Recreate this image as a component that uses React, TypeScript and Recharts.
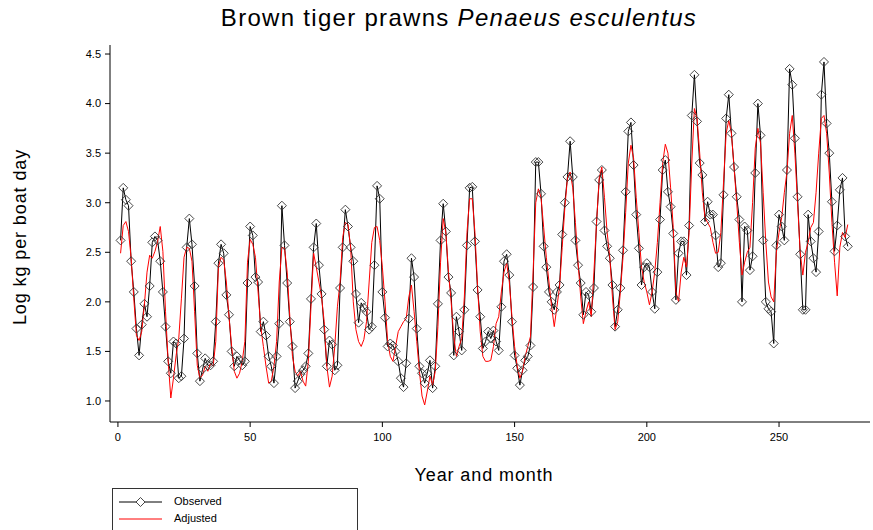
import { LineChart, Line, XAxis, YAxis } from "recharts";

// month index 1..276
const months = Array.from({ length: 276 }, (_, i) => i + 1);

const observed = [
  2.62, 3.15, 3.03, 2.97, 2.41, 2.10, 1.73, 1.46, 1.77, 1.98, 1.85, 2.16,
  2.60, 2.66, 2.62, 2.41, 2.10, 1.75, 1.40, 1.28, 1.60, 1.58, 1.23, 1.25,
  1.63, 2.55, 2.84, 2.58, 2.16, 1.48, 1.20, 1.32, 1.43, 1.36, 1.36, 1.40,
  1.80, 2.39, 2.58, 2.49, 2.07, 1.87, 1.50, 1.35, 1.45, 1.41, 1.36, 1.40,
  2.19, 2.76, 2.67, 2.25, 2.20, 1.70, 1.80, 1.66, 1.45, 1.35, 1.18, 1.45,
  1.78, 2.97, 2.57, 2.19, 1.80, 1.55, 1.13, 1.20, 1.27, 1.31, 1.35, 1.48,
  2.03, 2.55, 2.79, 2.37, 2.08, 1.72, 1.35, 1.61, 1.57, 1.31, 1.36, 2.14,
  2.55, 2.93, 2.76, 2.55, 2.41, 2.08, 1.79, 1.99, 1.94, 1.90, 1.72, 1.75,
  2.37, 3.17, 3.04, 2.10, 1.84, 1.55, 1.58, 1.56, 1.50, 1.40, 1.23, 1.14,
  1.38, 1.83, 2.44, 2.25, 1.73, 1.35, 1.28, 1.18, 1.28, 1.41, 1.13, 1.35,
  1.98, 2.62, 2.99, 2.71, 2.25, 2.09, 1.46, 1.85, 1.70, 1.51, 1.92, 2.57,
  3.15, 3.16, 2.61, 2.12, 1.85, 1.53, 1.60, 1.70, 1.63, 1.71, 1.60, 1.51,
  1.95, 2.41, 2.48, 2.27, 1.80, 1.46, 1.33, 1.16, 1.31, 1.41, 1.45, 1.56,
  2.15, 3.41, 3.41, 3.09, 2.56, 2.35, 2.10, 2.00, 1.92, 2.10, 2.17, 2.68,
  3.00, 3.26, 3.62, 3.26, 2.62, 2.37, 2.19, 1.87, 2.10, 2.07, 1.90, 2.14,
  2.81, 3.23, 3.33, 2.72, 2.56, 2.44, 2.17, 1.75, 1.92, 2.14, 2.52, 3.11,
  3.72, 3.81, 3.38, 2.88, 2.54, 2.17, 2.35, 2.39, 2.35, 2.10, 1.93, 2.30,
  2.83, 3.33, 3.43, 3.11, 2.96, 2.69, 2.02, 2.49, 2.61, 2.61, 2.27, 2.77,
  3.88, 4.29, 3.82, 3.40, 3.28, 2.81, 3.01, 2.88, 2.88, 2.67, 2.35, 2.39,
  3.08, 3.85, 4.09, 3.70, 3.36, 3.06, 2.83, 2.00, 2.76, 2.72, 2.32, 2.46,
  3.30, 4.00, 3.68, 2.62, 2.00, 1.93, 1.90, 1.58, 2.57, 2.88, 2.76, 2.62,
  3.33, 4.35, 4.19, 3.65, 3.06, 2.48, 1.92, 1.92, 2.88, 2.61, 2.44, 2.30,
  2.71, 4.09, 4.42, 3.80, 3.50, 3.01, 2.51, 2.77, 3.13, 3.25, 2.66, 2.56,
];

const adjusted = [
  2.49, 2.77, 2.81, 2.71, 2.44, 2.03, 1.66, 1.61, 1.70, 1.97, 2.30, 2.47,
  2.44, 2.51, 2.61, 2.76, 2.51, 1.90, 1.40, 1.03, 1.23, 1.46, 1.63, 2.03,
  2.45, 2.55, 2.54, 2.41, 1.90, 1.36, 1.23, 1.26, 1.35, 1.30, 1.38, 1.35,
  1.60, 2.35, 2.45, 2.42, 2.20, 1.85, 1.55, 1.30, 1.23, 1.28, 1.40, 1.60,
  2.40, 2.63, 2.58, 2.45, 2.10, 1.75, 1.55, 1.35, 1.18, 1.20, 1.35, 1.60,
  2.20, 2.55, 2.54, 2.30, 1.85, 1.45, 1.30, 1.25, 1.30, 1.20, 1.15, 1.40,
  1.95, 2.49, 2.35, 2.20, 2.05, 1.80, 1.35, 1.14, 1.25, 1.55, 1.95, 2.20,
  2.65, 2.80, 2.78, 2.55, 2.00, 1.72, 1.60, 1.55, 1.62, 1.80, 2.20, 2.60,
  2.75, 2.76, 2.62, 2.35, 2.00, 1.60, 1.45, 1.40, 1.55, 1.70, 1.75, 1.80,
  1.83, 2.05, 2.17, 1.90, 1.60, 1.30, 1.05, 0.96, 1.10, 1.25, 1.16, 1.30,
  1.75, 2.40, 2.84, 2.70, 2.30, 2.00, 1.65, 1.45, 1.55, 1.63, 2.05, 2.70,
  3.04, 3.04, 2.70, 2.15, 1.70, 1.45, 1.40, 1.40, 1.41, 1.55, 1.78, 1.85,
  2.10, 2.30, 2.39, 2.20, 1.85, 1.55, 1.35, 1.23, 1.30, 1.45, 1.55, 1.65,
  2.30, 3.00, 3.14, 3.05, 2.75, 2.45, 2.20, 1.95, 1.75, 1.95, 2.15, 2.55,
  2.95, 3.25, 3.31, 3.15, 2.80, 2.40, 2.05, 1.78, 1.90, 2.00, 1.85, 2.30,
  2.80, 3.25, 3.36, 3.05, 2.70, 2.45, 2.05, 1.72, 1.80, 2.10, 2.45, 2.90,
  3.40, 3.58, 3.45, 3.05, 2.70, 2.35, 2.20, 2.10, 1.97, 2.10, 2.30, 2.60,
  3.00, 3.40, 3.59, 3.50, 3.15, 2.75, 2.10, 2.00, 2.30, 2.45, 2.35, 2.70,
  3.40, 3.95, 3.85, 3.50, 3.10, 2.85, 2.80, 2.75, 2.60, 2.49, 2.50, 2.70,
  3.20, 3.70, 3.83, 3.70, 3.35, 3.00, 2.60, 2.27, 2.40, 2.50, 2.55, 3.00,
  3.55, 3.75, 3.60, 3.10, 2.60, 2.20, 2.05, 2.00, 2.50, 2.70, 2.85, 3.10,
  3.31, 3.70, 3.88, 3.50, 3.00, 2.50, 2.27, 2.50, 2.60, 2.75, 2.80, 3.10,
  3.50, 3.85, 3.88, 3.70, 3.30, 2.80, 2.40, 2.06, 2.55, 2.70, 2.65, 2.78,
];

const xTicks = [0, 50, 100, 150, 200, 250];
const yTicks = [1.0, 1.5, 2.0, 2.5, 3.0, 3.5, 4.0, 4.5];

const data = months.map((m, i) => ({
  month: m,
  observed: observed[i],
  adjusted: adjusted[i],
}));

const font = '"Liberation Sans", Arial, sans-serif';
const xDomain: [number, number] = [-3, 284.4];
const yDomain: [number, number] = [0.788, 4.591];

function Diamond(props: any) {
  const { cx, cy, index } = props;
  if (cx == null || cy == null) return <g key={index} />;
  const r = 4.5;
  return (
    <path
      key={index}
      d={`M${cx},${cy - r}L${cx + r},${cy}L${cx},${cy + r}L${cx - r},${cy}Z`}
      fill="none"
      stroke="#333"
      strokeWidth={0.9}
    />
  );
}

export default function App() {
  const tickStyle = { fill: "#000", fontSize: 11, fontFamily: font };
  return (
    <div
      style={{
        position: "absolute",
        left: 0,
        top: 0,
        width: 873,
        height: 530,
        background: "#fff",
        fontFamily: font,
        overflow: "hidden",
      }}
    >
      <div
        style={{
          position: "absolute",
          left: 459,
          top: 6,
          transform: "translateX(-50%)",
          fontSize: 24,
          letterSpacing: 1.3,
          whiteSpace: "nowrap",
          lineHeight: 1,
        }}
      >
        Brown tiger prawns <i>Penaeus esculentus</i>
      </div>

      <LineChart
        width={873}
        height={530}
        data={data}
        margin={{ top: 45, right: 3, bottom: 78, left: 50 }}
      >
        <XAxis
          xAxisId="b"
          dataKey="month"
          type="number"
          domain={xDomain}
          allowDataOverflow
          ticks={xTicks}
          tickSize={5}
          tickMargin={6}
          height={30}
          stroke="#000"
          tick={tickStyle}
        />
        <XAxis
          xAxisId="t"
          orientation="top"
          dataKey="month"
          type="number"
          domain={xDomain}
          allowDataOverflow
          tick={false}
          tickLine={false}
          height={0}
          stroke="#000"
        />
        <YAxis
          yAxisId="l"
          type="number"
          domain={yDomain}
          allowDataOverflow
          ticks={yTicks}
          tickFormatter={(v: number) => v.toFixed(1)}
          tickSize={5}
          tickMargin={4}
          width={60}
          stroke="#000"
          tick={tickStyle}
        />
        <YAxis
          yAxisId="r"
          orientation="right"
          type="number"
          domain={yDomain}
          allowDataOverflow
          tick={false}
          tickLine={false}
          width={0}
          stroke="#000"
        />
        <Line
          xAxisId="b"
          yAxisId="l"
          dataKey="observed"
          type="linear"
          stroke="#000"
          strokeWidth={1}
          dot={Diamond}
          activeDot={false}
          isAnimationActive={false}
        />
        <Line
          xAxisId="b"
          yAxisId="l"
          dataKey="adjusted"
          type="linear"
          stroke="#ff0000"
          strokeWidth={1}
          dot={false}
          activeDot={false}
          isAnimationActive={false}
        />
      </LineChart>

      <div
        style={{
          position: "absolute",
          left: 484,
          top: 466,
          transform: "translateX(-50%)",
          fontSize: 18,
          letterSpacing: 0.9,
          whiteSpace: "nowrap",
          lineHeight: 1,
        }}
      >
        Year and month
      </div>
      <div
        style={{
          position: "absolute",
          left: 20,
          top: 237,
          transform: "translate(-50%, -50%) rotate(-90deg)",
          fontSize: 18,
          letterSpacing: 0.9,
          whiteSpace: "nowrap",
          lineHeight: 1,
        }}
      >
        Log kg per boat day
      </div>

      <div
        style={{
          position: "absolute",
          left: 112,
          top: 488,
          width: 246,
          height: 60,
          border: "1px solid #333",
          boxSizing: "border-box",
        }}
      >
        <svg
          width={60}
          height={40}
          style={{ position: "absolute", left: 3, top: 0 }}
        >
          <line x1={3} y1={13} x2={46} y2={13} stroke="#000" strokeWidth={1} />
          <path
            d="M24.5,8.5L29,13L24.5,17.5L20,13Z"
            fill="#fff"
            stroke="#333"
            strokeWidth={0.9}
          />
          <line x1={3} y1={30} x2={46} y2={30} stroke="#ff0000" strokeWidth={1} />
        </svg>
        <div
          style={{
            position: "absolute",
            left: 61,
            top: 6,
            fontSize: 11,
            lineHeight: "13px",
          }}
        >
          Observed
        </div>
        <div
          style={{
            position: "absolute",
            left: 61,
            top: 23,
            fontSize: 11,
            lineHeight: "13px",
          }}
        >
          Adjusted
        </div>
      </div>
    </div>
  );
}
